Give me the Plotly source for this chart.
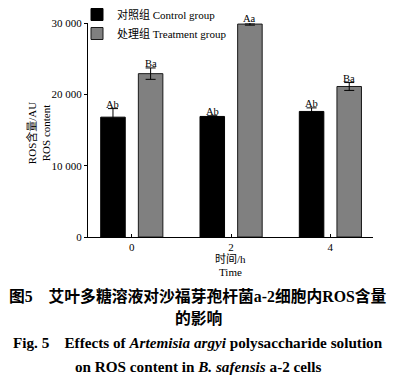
import plotly.graph_objects as go

categories = ["0", "2", "4"]
control = [16800, 16900, 17600]
control_err = [1200, 100, 500]
treatment = [22900, 29850, 21100]
treatment_err = [800, 150, 550]
control_labels = ["Ab", "Ab", "Ab"]
treatment_labels = ["Ba", "Aa", "Ba"]
y_ticks = [0, 10000, 20000, 30000]
y_ticktext = ["0", "10 000", "20 000", "30 000"]

xpos = list(range(len(categories)))
W = 0.247
OFF_C = -0.312
OFF_T = 0.067

SERIF = "Liberation Serif, Times New Roman, Noto Sans CJK SC, serif"
H = 384.0
TOP, BOT = 23.0, 236.7
PH = BOT - TOP
L, R = 88.0, 373.0
PW = R - L


def py(px):
    return (BOT - px) / PH


def pxr(px):
    return (px - L) / PW


fig = go.Figure()
fig.add_trace(go.Bar(
    x=xpos, y=control, name="对照组 Control group",
    width=W, offset=OFF_C,
    marker=dict(color="#000000", line=dict(color="#000000", width=1)),
    error_y=dict(type="data", array=control_err, color="#000000", thickness=1, width=5),
))
fig.add_trace(go.Bar(
    x=xpos, y=treatment, name="处理组 Treatment group",
    width=W, offset=OFF_T,
    marker=dict(color="#808080", line=dict(color="#1a1a1a", width=1)),
    error_y=dict(type="data", array=treatment_err, color="#000000", thickness=1, width=5),
))

lab_font = dict(family=SERIF, size=10.5, color="black")
annotations = []
for i in xpos:
    annotations.append(dict(x=i + OFF_C + W / 2, y=control[i] + control_err[i], text=control_labels[i],
                            showarrow=False, yanchor="bottom", yshift=-3, font=lab_font))
    annotations.append(dict(x=i + OFF_T + W / 2, y=treatment[i] + treatment_err[i], text=treatment_labels[i],
                            showarrow=False, yanchor="bottom", yshift=-3, font=lab_font))

ax_font = dict(family=SERIF, size=11, color="black")
# y-axis title (two lines, rotated)
annotations.append(dict(xref="paper", yref="paper", x=pxr(38), y=py(133), text="ROS含量/AU<br>ROS content",
                        showarrow=False, textangle=-90, xanchor="center", yanchor="middle", font=ax_font))
annotations.append(dict(xref="paper", yref="paper", x=0.5, y=py(259), text="时间/h",
                        showarrow=False, yanchor="middle", font=ax_font))
annotations.append(dict(xref="paper", yref="paper", x=0.5, y=py(272), text="Time",
                        showarrow=False, yanchor="middle", font=ax_font))

cx = pxr(198)
cn_font = dict(family=SERIF, size=15.8, color="black")
en_font = dict(family=SERIF, size=15.2, color="black")
annotations.append(dict(xref="paper", yref="paper", x=cx, y=py(296),
                        text="<b>图5　艾叶多糖溶液对沙福芽孢杆菌a-2细胞内ROS含量</b>",
                        showarrow=False, yanchor="middle", xanchor="center", font=cn_font))
annotations.append(dict(xref="paper", yref="paper", x=cx, y=py(318),
                        text="<b>的影响</b>", showarrow=False, yanchor="middle", xanchor="center", font=cn_font))
annotations.append(dict(xref="paper", yref="paper", x=cx, y=py(342),
                        text="<b>Fig. 5　Effects of <i>Artemisia argyi</i> polysaccharide solution</b>",
                        showarrow=False, yanchor="middle", xanchor="center", font=en_font))
annotations.append(dict(xref="paper", yref="paper", x=cx, y=py(366),
                        text="<b>on ROS content in <i>B. safensis</i> a-2 cells</b>",
                        showarrow=False, yanchor="middle", xanchor="center", font=en_font))

fig.update_layout(
    width=395, height=384,
    margin=dict(l=L, r=395 - R, t=TOP, b=H - BOT, pad=0, autoexpand=False),
    paper_bgcolor="white", plot_bgcolor="white",
    font=dict(family=SERIF, size=11, color="black"),
    showlegend=True,
    legend=dict(xref="container", yref="container", x=77 / 395, y=1 - 0 / H,
                xanchor="left", yanchor="top", bgcolor="rgba(0,0,0,0)",
                font=dict(family=SERIF, size=11, color="black"), tracegroupgap=0, itemwidth=30),
    xaxis=dict(range=[-0.44, 2.43], tickvals=xpos, ticktext=categories, automargin=False,
               showline=True, linecolor="black", linewidth=1, ticks="inside", ticklen=3,
               tickcolor="black", showgrid=False, zeroline=False, tickfont=ax_font),
    yaxis=dict(range=[0, 30000], tickvals=y_ticks, ticktext=y_ticktext, automargin=False,
               showline=True, linecolor="black", linewidth=1, ticks="outside", ticklen=3,
               tickcolor="black", showgrid=False, zeroline=False, tickfont=ax_font),
    annotations=annotations,
)

fig.write_html("out.html", config={"displayModeBar": False},
               post_script="document.body.style.margin='0';document.body.style.overflow='hidden';")
